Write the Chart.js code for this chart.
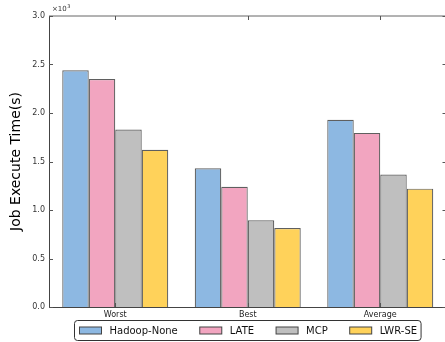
<!DOCTYPE html>
<html>
<head>
<meta charset="utf-8">
<style>
  html, body { margin: 0; padding: 0; background: #fff; overflow: hidden; }
  #wrap { width: 445px; height: 342px; overflow: hidden; }
  canvas { display: block; }
</style>
<script src="https://cdn.jsdelivr.net/npm/chart.js@4/dist/chart.umd.min.js"></script>
</head>
<body>
<div id="wrap"><canvas id="c" width="452" height="342"></canvas></div>
<script>
// Job execution time (seconds) per scheduling strategy
const categories = ['Worst', 'Best', 'Average'];
const seriesNames = ['Hadoop-None', 'LATE', 'MCP', 'LWR-SE'];
const hadoopNone = [2440, 1430, 1930];
const late = [2350, 1240, 1795];
const mcp = [1830, 895, 1365];
const lwrSe = [1620, 815, 1220];
const yTicks = [0, 500, 1000, 1500, 2000, 2500, 3000];

const fills = ['#8db8e2', '#f2a5c0', '#bfbfbf', '#ffd25a'];
const FONT = "'DejaVu Sans', sans-serif";

const seriesValues = [hadoopNone, late, mcp, lwrSe];

// Spines with inward tick marks, the ×10³ offset label and a framed legend
const framePlugin = {
  id: 'frame',
  afterDatasetsDraw(chart) {
    const { ctx, chartArea: a, scales } = chart;
    const y = scales.y, x = scales.x;
    ctx.save();
    ctx.strokeStyle = '#444';
    ctx.lineWidth = 1;
    ctx.beginPath();
    ctx.moveTo(a.left + 0.5, a.top);
    ctx.lineTo(a.left + 0.5, a.bottom + 0.5);
    ctx.lineTo(a.right, a.bottom + 0.5);
    ctx.lineTo(a.right, a.top);
    ctx.stroke();
    ctx.strokeStyle = '#666';
    ctx.beginPath();
    ctx.moveTo(a.left, a.top);
    ctx.lineTo(a.right, a.top);
    ctx.stroke();

    // inward ticks
    ctx.strokeStyle = '#555';
    ctx.beginPath();
    yTicks.forEach(v => {
      const py = Math.round(y.getPixelForValue(v)) + 0.5;
      ctx.moveTo(a.left, py); ctx.lineTo(a.left + 4, py);
      ctx.moveTo(a.right, py); ctx.lineTo(a.right - 4, py);
    });
    categories.forEach((c, i) => {
      const px = Math.round(x.getPixelForValue(i)) + 0.5;
      ctx.moveTo(px, a.top); ctx.lineTo(px, a.top + 4);
      ctx.moveTo(px, a.bottom); ctx.lineTo(px, a.bottom - 4);
    });
    ctx.stroke();

    // ×10³ offset label
    ctx.fillStyle = '#333';
    ctx.textBaseline = 'alphabetic';
    ctx.textAlign = 'left';
    ctx.font = '7px ' + FONT;
    ctx.fillText('\u00d710', a.left + 3, a.top - 5);
    const w = ctx.measureText('\u00d710').width;
    ctx.font = '5px ' + FONT;
    ctx.fillText('3', a.left + 3 + w + 0.5, a.top - 8);
    ctx.restore();
  },
  afterDraw(chart) {
    const { ctx, chartArea: a } = chart;
    const ds = chart.data.datasets;
    const xs = chart.scales.x;
    ctx.save();
    ctx.font = '10px ' + FONT;
    const sw = 22, sh = 7, gapIn = 8, gapOut = 22, padL = 5, padR = 4;
    const widths = ds.map(d => sw + gapIn + ctx.measureText(d.label).width);
    const inner = widths.reduce((s, v) => s + v, 0) + gapOut * (ds.length - 1);
    const boxW = inner + padL + padR;
    const step = xs.getPixelForValue(1) - xs.getPixelForValue(0);
    const cx = (a.left + xs.getPixelForValue(categories.length - 1) + step / 2) / 2;
    const boxX = Math.round(cx - boxW / 2) + 0.5;
    const boxY = 320.5, boxH = 20;
    ctx.fillStyle = '#fff';
    ctx.strokeStyle = '#333';
    ctx.lineWidth = 1;
    ctx.beginPath();
    ctx.roundRect(boxX, boxY, boxW, boxH, 3);
    ctx.fill();
    ctx.stroke();
    let px = boxX + padL;
    const cy = boxY + boxH / 2;
    ds.forEach((d, i) => {
      ctx.fillStyle = d.backgroundColor;
      ctx.fillRect(px, cy - sh / 2, sw, sh);
      ctx.strokeStyle = '#444';
      ctx.strokeRect(px, cy - sh / 2, sw, sh);
      ctx.fillStyle = '#111';
      ctx.textAlign = 'left';
      ctx.textBaseline = 'middle';
      ctx.fillText(d.label, px + sw + gapIn, cy + 0.5);
      px += widths[i] + gapOut;
    });
    ctx.restore();
  }
};

new Chart(document.getElementById('c'), {
  type: 'bar',
  data: {
    labels: categories,
    datasets: seriesNames.map((name, i) => ({
      label: name,
      data: seriesValues[i],
      backgroundColor: fills[i],
      borderColor: 'rgba(55,55,55,0.8)',
      borderWidth: 1.2,
      categoryPercentage: 0.8,
      barPercentage: 1.0
    }))
  },
  options: {
    responsive: false,
    animation: false,
    devicePixelRatio: 1,
    layout: { padding: { left: 0, top: 16, right: 5.5, bottom: 0 } },
    plugins: { legend: { display: false }, tooltip: { enabled: false } },
    scales: {
      x: {
        grid: { display: false, drawTicks: false },
        border: { display: false },
        ticks: { font: { family: FONT, size: 8 }, color: '#222', padding: 3 },
        afterFit(s) { s.height = 35; }
      },
      y: {
        min: 0, max: 3000,
        afterBuildTicks(s) { s.ticks = yTicks.map(v => ({ value: v })); },
        grid: { display: false, drawTicks: false },
        border: { display: false },
        ticks: {
          font: { family: FONT, size: 8 }, color: '#333', padding: 4,
          callback: v => (v / 1000).toFixed(1)
        },
        title: {
          display: true, text: 'Job Execute Time(s)',
          font: { family: FONT, size: 14 }, color: '#000',
          padding: { top: 8, bottom: 0 }
        },
        afterFit(s) { s.width = 49; }
      }
    }
  },
  plugins: [framePlugin]
});
</script>
</body>
</html>
